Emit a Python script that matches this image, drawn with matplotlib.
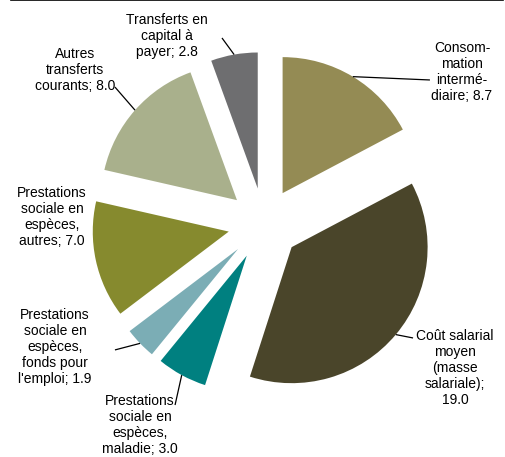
import numpy as np
import matplotlib.pyplot as plt
from matplotlib.lines import Line2D

plt.rcParams['font.family'] = ['Liberation Sans', 'DejaVu Sans']

labels = ["Consom-\nmation\ninterm\u00e9-\ndiaire; 8.7",
          "Co\u00fbt salarial\nmoyen\n(masse\nsalariale);\n19.0",
          "Prestations\nsociale en\nesp\u00e8ces,\nmaladie; 3.0",
          "Prestations\nsociale en\nesp\u00e8ces,\nfonds pour\nl'emploi; 1.9",
          "Prestations\nsociale en\nesp\u00e8ces,\nautres; 7.0",
          "Autres\ntransferts\ncourants; 8.0",
          "Transferts en\ncapital \u00e0\npayer; 2.8"]
values = [8.7, 19.0, 3.0, 1.9, 7.0, 8.0, 2.8]
colors = ['#948B54', '#4A452A', '#008080', '#7BADB5', '#868A2E', '#A9B08C', '#6E6E70']

# label block centres and leader-line ends (data units, radius = 1)
text_pos = [(1.456, 1.118), (1.404, -1.059), (-0.912, -1.478), (-1.537, -0.904),
            (-1.559, 0.051), (-1.39, 1.132), (-0.713, 1.382)]
leader_end = [(1.22, 1.059), (1.096, -0.838), (-0.654, -1.331), (-1.096, -0.926),
              None, (-1.096, 1.007), (-0.309, 1.368)]

explode = 0.265

fig = plt.figure(figsize=(5.05, 4.57), dpi=100)
ax = fig.add_axes([0, 0, 1, 1])
wedges, _ = ax.pie(values, colors=colors, startangle=90, counterclock=False,
                   explode=[explode] * len(values), radius=1.0,
                   wedgeprops=dict(linewidth=0))

for w, lab, tp, le in zip(wedges, labels, text_pos, leader_end):
    mid = np.deg2rad((w.theta1 + w.theta2) / 2)
    if le is not None:
        r = 1.0 + explode
        ax.plot([r * np.cos(mid), le[0]], [r * np.sin(mid), le[1]],
                color='black', lw=0.9, solid_capstyle='butt')
    ax.text(tp[0], tp[1], lab, ha='center', va='center', fontsize=10,
            linespacing=1.2, color='black')

ax.set_xlim(-264 / 136, (505 - 264) / 136)
ax.set_ylim(-(457 - 224) / 136, 224 / 136)
ax.set_aspect('auto')
ax.axis('off')

fig.add_artist(Line2D([11 / 505, 503 / 505], [0.999, 0.999], color='black', lw=1.2))

fig.savefig('out.png', dpi=100)
